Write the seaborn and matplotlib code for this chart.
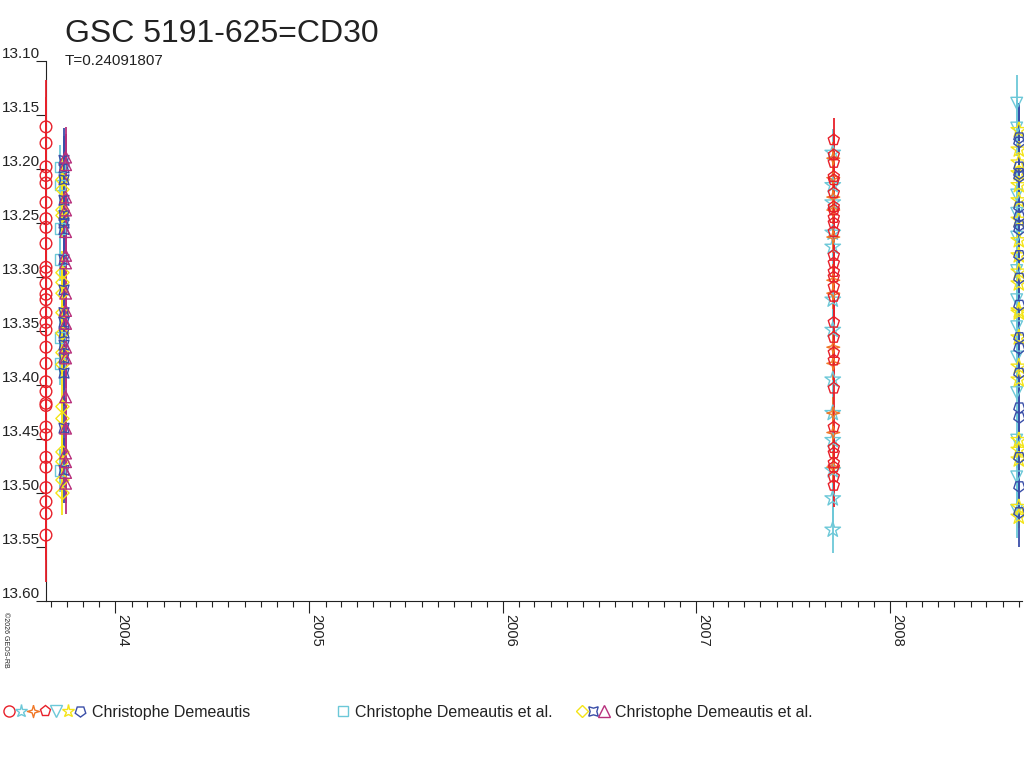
import pandas as pd
import numpy as np
import seaborn as sns
import matplotlib.pyplot as plt
import matplotlib.dates as mdates
from matplotlib.lines import Line2D
from matplotlib.legend_handler import HandlerTuple

sns.set_theme(style="ticks")
plt.rcParams["font.family"] = ["Liberation Sans", "DejaVu Sans"]

# --- observations (date of night, magnitudes, typical error) ---
obs1_date = "2003-08-23"
obs1_mag = [13.161, 13.176, 13.198, 13.206, 13.213, 13.231, 13.246, 13.254, 13.269, 13.291,
            13.295, 13.306, 13.316, 13.321, 13.333, 13.342, 13.349, 13.365, 13.380, 13.397,
            13.406, 13.417, 13.419, 13.439, 13.446, 13.467, 13.476, 13.495, 13.508, 13.519, 13.539]
obs1_err = 0.043

obs2_date = "2003-09-18"
obs2_mag = [13.198, 13.215, 13.255, 13.284, 13.356, 13.380, 13.479]
obs2_err = 0.02

obs3_date = "2003-09-23"
obs3_mag = [13.210, 13.219, 13.238, 13.243, 13.296, 13.305, 13.315, 13.333, 13.352, 13.370,
            13.381, 13.420, 13.431, 13.462, 13.471, 13.488, 13.500]
obs3_err = 0.02

obs4_date = "2003-09-26"
obs4_mag = [13.192, 13.199, 13.210, 13.229, 13.243, 13.250, 13.256, 13.284, 13.312, 13.333,
            13.342, 13.352, 13.363, 13.375, 13.389, 13.440, 13.479]
obs4_err = 0.03

obs5_date = "2003-09-29"
obs5_mag = [13.189, 13.196, 13.226, 13.238, 13.258, 13.280, 13.287, 13.315, 13.331, 13.343,
            13.365, 13.375, 13.411, 13.440, 13.463, 13.471, 13.481, 13.491]
obs5_err = 0.028

obs6_date = "2007-09-15"
obs6_mag = [13.185, 13.215, 13.231, 13.259, 13.272, 13.321, 13.349, 13.395, 13.426, 13.451,
            13.479, 13.505, 13.534]
obs6_err = 0.022

obs7_date = "2007-09-16"
obs7_mag = [13.190, 13.208, 13.226, 13.238, 13.263, 13.303, 13.315, 13.365, 13.380, 13.426,
            13.444, 13.476]
obs7_err = 0.015

obs8_date = "2007-09-17"
obs8_mag = [13.173, 13.187, 13.194, 13.207, 13.210, 13.222, 13.235, 13.238, 13.245, 13.250,
            13.258, 13.280, 13.287, 13.295, 13.300, 13.309, 13.318, 13.342, 13.356, 13.370,
            13.377, 13.403, 13.439, 13.458, 13.463, 13.472, 13.476, 13.485, 13.493]
obs8_err = 0.02

obs9_date = "2008-08-27"
obs9_mag = [13.139, 13.162, 13.224, 13.241, 13.263, 13.294, 13.321, 13.346, 13.374, 13.407,
            13.451, 13.485, 13.516]
obs9_err = 0.026

obs10_date = "2008-08-31"
obs10_mag = [13.164, 13.182, 13.194, 13.204, 13.215, 13.229, 13.247, 13.266, 13.280, 13.295,
             13.306, 13.331, 13.333, 13.356, 13.383, 13.395, 13.451, 13.460, 13.469, 13.513, 13.522]
obs10_err = 0.01

obs11_date = "2008-09-01"
obs11_mag = [13.171, 13.175, 13.198, 13.204, 13.207, 13.235, 13.244, 13.252, 13.256, 13.280,
             13.301, 13.326, 13.356, 13.366, 13.389, 13.421, 13.430, 13.467, 13.494, 13.518]
obs11_err = 0.032

observer_labels = ["Christophe Demeautis", "Christophe Demeautis et al.", "Christophe Demeautis et al."]

RED, CYAN, ORANGE, YELLOW, BLUE, MAGENTA = "#e8202a", "#6cc8d8", "#f07828", "#f4e418", "#3a4ea8", "#b8307c"
# concave four-pointed star
STAR4 = [(0, 1), (0.22, 0.22), (1, 0), (0.22, -0.22), (0, -1), (-0.22, -0.22), (-1, 0), (-0.22, 0.22), (0, 1)]
XSTAR = (4, 1, 45)
PENT_DOWN = (5, 0, 180)

# (date, mags, err, colour, marker, size scale, legend group)
series = [
    (obs1_date, obs1_mag, obs1_err, RED, "o", 1.0, 0),
    (obs6_date, obs6_mag, obs6_err, CYAN, "*", 1.4, 0),
    (obs7_date, obs7_mag, obs7_err, ORANGE, STAR4, 1.1, 0),
    (obs8_date, obs8_mag, obs8_err, RED, "p", 1.0, 0),
    (obs9_date, obs9_mag, obs9_err, CYAN, "v", 1.0, 0),
    (obs10_date, obs10_mag, obs10_err, YELLOW, "*", 1.4, 0),
    (obs11_date, obs11_mag, obs11_err, BLUE, PENT_DOWN, 1.0, 0),
    (obs2_date, obs2_mag, obs2_err, CYAN, "s", 0.9, 1),
    (obs3_date, obs3_mag, obs3_err, YELLOW, "D", 0.8, 2),
    (obs4_date, obs4_mag, obs4_err, BLUE, XSTAR, 1.2, 2),
    (obs5_date, obs5_mag, obs5_err, MAGENTA, "^", 1.0, 2),
]

fig = plt.figure(figsize=(10.24, 7.68), dpi=100)
ax = fig.add_axes([46 / 1024, 1 - 601 / 768, 976 / 1024, 540 / 768])

for date, mags, err, col, mk, sc, grp in series:
    df = pd.DataFrame({"date": pd.to_datetime([date] * len(mags)), "mag": mags})
    eb = ax.errorbar(df["date"], df["mag"], yerr=err, fmt="none", ecolor=col, elinewidth=1.3,
                     capsize=0, zorder=2)
    for art in eb.lines[2]:
        art.set_clip_on(False)
    sns.scatterplot(data=df, x="date", y="mag", ax=ax, color=col, marker=mk, s=70 * sc * sc,
                    facecolors="none", edgecolor=col, linewidth=1.0, zorder=3, legend=False,
                    clip_on=False)

ax.set_xlim(pd.Timestamp("2003-08-23"), pd.Timestamp("2008-09-06"))
ax.set_ylim(13.60, 13.10)
ax.set_yticks(np.arange(13.10, 13.601, 0.05))
ax.yaxis.set_major_formatter(plt.FormatStrFormatter("%.2f"))
ax.xaxis.set_major_locator(mdates.YearLocator())
ax.xaxis.set_minor_locator(mdates.MonthLocator())
ax.xaxis.set_major_formatter(mdates.DateFormatter("%Y"))
ax.set_xlabel("")
ax.set_ylabel("")

for side in ["top", "right"]:
    ax.spines[side].set_visible(False)
for side in ["left", "bottom"]:
    ax.spines[side].set_color("#222222")
    ax.spines[side].set_linewidth(0.8)
    ax.spines[side].set_zorder(1)

ax.tick_params(axis="y", which="major", direction="out", length=7.5, width=0.8, color="#222222",
               labelsize=11, labelcolor="#222222", pad=-3.5)
for lab in ax.get_yticklabels():
    lab.set_verticalalignment("bottom")
ax.tick_params(axis="x", which="major", direction="out", length=8.5, width=0.8, color="#222222",
               labelsize=10.5, labelcolor="#222222", labelrotation=-90, pad=1)
ax.tick_params(axis="x", which="minor", direction="out", length=4.5, width=0.8, color="#222222")
for lab in ax.get_xticklabels():
    lab.set_horizontalalignment("left")
    lab.set_verticalalignment("top")

fig.text(65 / 1024, 1 - 42 / 768, "GSC 5191-625=CD30", fontsize=23, color="#222222", va="baseline")
fig.text(65 / 1024, 1 - 65 / 768, "T=0.24091807", fontsize=11, color="#222222", va="baseline")
fig.text(2 / 1024, 1 - 612 / 768, "©2026 GEOS-RB", fontsize=5, rotation=-90, va="top", ha="left",
         color="#222222")

# legend: three observer groups along the bottom
group_x = [3, 337, 576]
group_len = [5.2, 0.8, 2.1]
for g, label in enumerate(observer_labels):
    handles = tuple(Line2D([], [], ls="none", marker=mk, mfc="none", mec=col, ms=8 * min(sc, 1.2), mew=1.0)
                    for _, _, _, col, mk, sc, grp in series if grp == g)
    fig.legend([handles], [label], loc="center left", bbox_to_anchor=(group_x[g] / 1024, 1 - 712 / 768),
               frameon=False, fontsize=11.5, handlelength=group_len[g], handletextpad=0.35,
               borderpad=0, borderaxespad=0, labelcolor="#222222",
               handler_map={tuple: HandlerTuple(ndivide=None, pad=0)})

fig.savefig("out.png", dpi=100)
